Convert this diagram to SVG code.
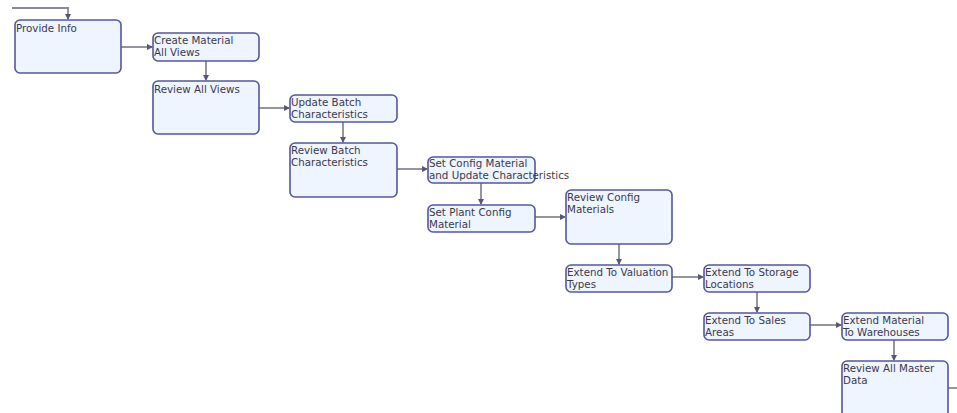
<svg xmlns="http://www.w3.org/2000/svg" width="957" height="413" viewBox="0 0 957 413">
<style>
.n rect{fill:#eef5ff;stroke:#55579a;stroke-width:1.6}
.n text{font-family:"DejaVu Sans",Verdana,sans-serif;font-size:10.3px;fill:#3a3a4a}
.c path{fill:none;stroke:#8a8a95;stroke-width:1.8}
</style>
<defs>
<marker id="m" viewBox="0 0 6 6" refX="5" refY="3" markerWidth="3.5" markerHeight="3.5" orient="auto" markerUnits="strokeWidth">
<path d="M0,0 L6,3 L0,6 z" fill="#55577a"/>
</marker>
</defs>
<rect width="957" height="413" fill="#ffffff"/>
<g id="connectors" class="c">
<path d="M12,8 H68 V19" marker-end="url(#m)"/>
<path d="M121,47 H152" marker-end="url(#m)"/>
<path d="M206,61 V80" marker-end="url(#m)"/>
<path d="M259,108 H289" marker-end="url(#m)"/>
<path d="M343,122 V142" marker-end="url(#m)"/>
<path d="M397,169 H427" marker-end="url(#m)"/>
<path d="M481,183 V204" marker-end="url(#m)"/>
<path d="M535,217 H565" marker-end="url(#m)"/>
<path d="M619,244 V264" marker-end="url(#m)"/>
<path d="M672,277 H703" marker-end="url(#m)"/>
<path d="M757,292 V312" marker-end="url(#m)"/>
<path d="M810,325 H841" marker-end="url(#m)"/>
<path d="M894,340 V360" marker-end="url(#m)"/>
<path d="M948,388 H957"/>
</g>
<g id="provide-info" class="n"><rect x="15" y="20" width="106" height="53" rx="5"/><text x="16" y="31.5">Provide Info</text></g>
<g id="create-material" class="n"><rect x="153" y="33" width="106" height="28" rx="5"/><text x="154" y="44">Create Material</text><text x="154" y="56">All Views</text></g>
<g id="review-all-views" class="n"><rect x="153" y="81" width="106" height="53" rx="5"/><text x="154" y="92.5">Review All Views</text></g>
<g id="update-batch" class="n"><rect x="290" y="95" width="107" height="27" rx="5"/><text x="291" y="105.5">Update Batch</text><text x="291" y="117.5">Characteristics</text></g>
<g id="review-batch" class="n"><rect x="290" y="143" width="107" height="54" rx="5"/><text x="291" y="153.5">Review Batch</text><text x="291" y="165.5">Characteristics</text></g>
<g id="set-config" class="n"><rect x="428" y="157" width="107" height="26" rx="5"/><text x="429" y="167">Set Config Material</text><text x="429" y="179">and Update Characteristics</text></g>
<g id="set-plant-config" class="n"><rect x="428" y="205" width="107" height="27" rx="5"/><text x="429" y="215.5">Set Plant Config</text><text x="429" y="227.5">Material</text></g>
<g id="review-config" class="n"><rect x="566" y="190" width="106" height="54" rx="5"/><text x="567" y="200.5">Review Config</text><text x="567" y="212.5">Materials</text></g>
<g id="extend-valuation" class="n"><rect x="566" y="265" width="106" height="27" rx="5"/><text x="567" y="275.5">Extend To Valuation</text><text x="567" y="287.5">Types</text></g>
<g id="extend-storage" class="n"><rect x="704" y="265" width="106" height="27" rx="5"/><text x="705" y="275.5">Extend To Storage</text><text x="705" y="287.5">Locations</text></g>
<g id="extend-sales" class="n"><rect x="704" y="313" width="106" height="27" rx="5"/><text x="705" y="323.5">Extend To Sales</text><text x="705" y="335.5">Areas</text></g>
<g id="extend-warehouses" class="n"><rect x="842" y="313" width="106" height="27" rx="5"/><text x="843" y="323.5">Extend Material</text><text x="843" y="335.5">To Warehouses</text></g>
<g id="review-master-data" class="n"><rect x="842" y="361" width="106" height="56" rx="5"/><text x="843" y="371.5">Review All Master</text><text x="843" y="383.5">Data</text></g>
</svg>
